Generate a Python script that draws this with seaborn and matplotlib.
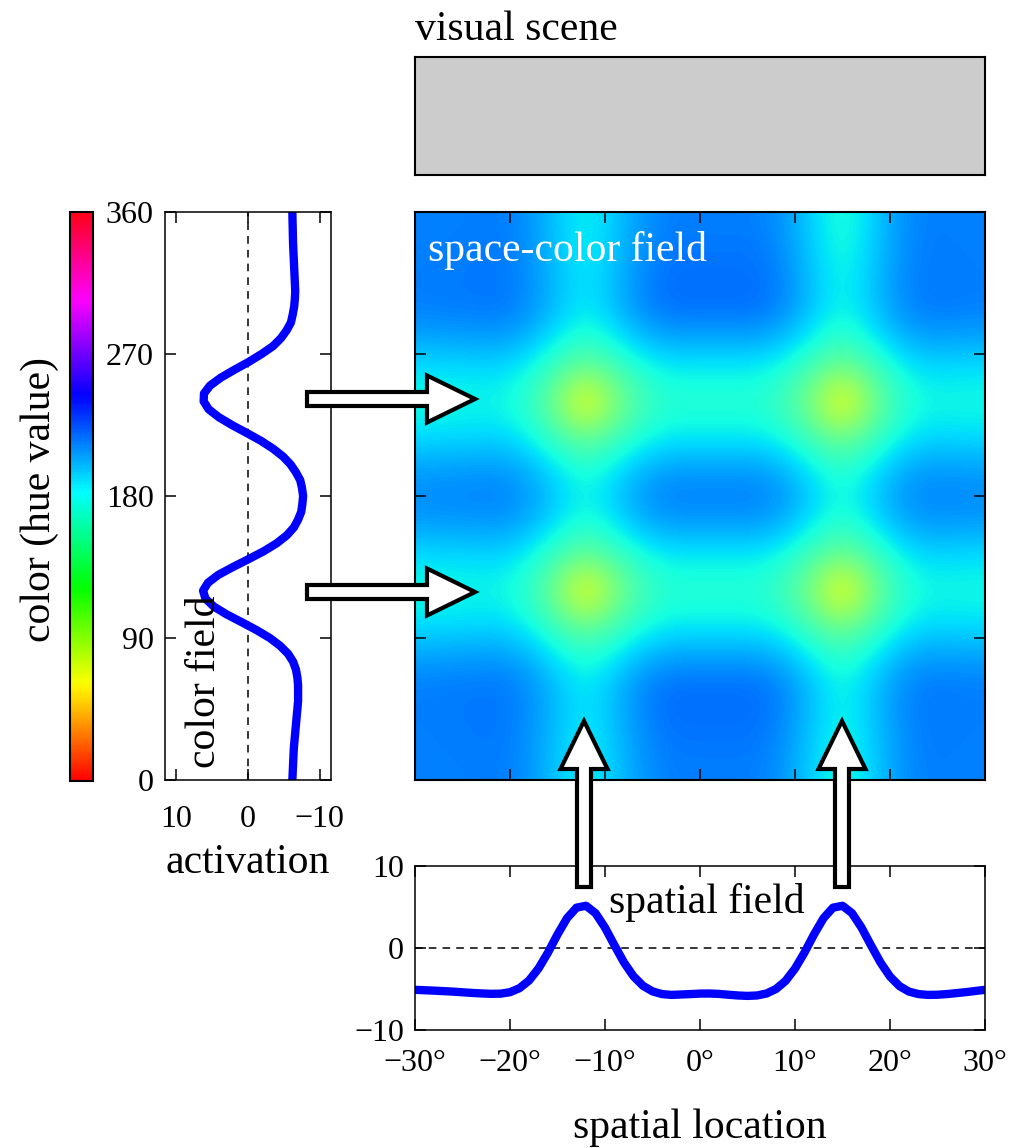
import numpy as np
import pandas as pd
import matplotlib
matplotlib.use("Agg")
import matplotlib.pyplot as plt
import seaborn as sns
from matplotlib.patches import FancyArrow
from matplotlib.cm import ScalarMappable
from matplotlib.colors import Normalize

# ---------------- data ----------------
hue_deg = list(range(0, 361, 5))
color_activation = [
    -6.20, -6.25, -6.30, -6.35, -6.40, -6.50, -6.60, -6.70, -6.80, -6.90,
    -7.00, -7.00, -7.00, -6.90, -6.70, -6.30, -5.60, -4.50, -3.05, -1.20,
    0.87, 3.00, 4.80, 5.95, 6.28, 5.60, 4.15, 2.10, -0.08, -2.20,
    -4.00, -5.40, -6.40, -7.00, -7.44, -7.60, -7.70, -7.55, -7.30, -6.70,
    -5.95, -4.90, -3.50, -1.80, 0.20, 2.25, 4.10, 5.50, 6.20, 6.15,
    5.30, 3.80, 1.90, -0.10, -1.90, -3.50, -4.60, -5.40, -6.00, -6.25,
    -6.45, -6.55, -6.60, -6.55, -6.50, -6.45, -6.40, -6.35, -6.30, -6.27,
    -6.25, -6.22, -6.20]

spatial_deg = list(range(-30, 31))
spatial_activation = [
    -5.10, -5.15, -5.20, -5.26, -5.32, -5.40, -5.48, -5.54, -5.59, -5.57,
    -5.39, -4.90, -3.97, -2.50, -0.55, 1.65, 3.63, 4.92, 5.15, 4.25,
    2.49, 0.32, -1.77, -3.45, -4.61, -5.29, -5.62, -5.72, -5.67, -5.62,
    -5.56, -5.55, -5.60, -5.70, -5.79, -5.84, -5.79, -5.55, -5.00, -4.02,
    -2.51, -0.55, 1.65, 3.63, 4.92, 5.15, 4.25, 2.49, 0.32, -1.77,
    -3.48, -4.65, -5.32, -5.62, -5.72, -5.70, -5.62, -5.50, -5.38, -5.24,
    -5.10]

# space-color field, rows from hue 0 (bottom) to 360 (top), columns -30..30 deg
field_x = list(range(-30, 31, 3))
field_hue = list(range(0, 361, 20))
field_activation = [
    [-4.9, -4.95, -5.0, -5.05, -4.58, -3.52, -2.7, -3.5, -4.54, -5.0, -5.0, -5.0, -5.0, -4.46, -3.24, -2.3, -3.26, -4.5, -5.0, -4.95, -4.9],
    [-4.95, -5.0, -5.05, -5.1, -4.63, -3.57, -2.75, -3.57, -4.63, -5.1, -5.1, -5.1, -5.1, -4.56, -3.35, -2.4, -3.35, -4.56, -5.05, -5.0, -4.95],
    [-5.0, -5.05, -5.1, -5.15, -4.7, -3.69, -2.9, -3.74, -4.82, -5.3, -5.3, -5.3, -5.3, -4.76, -3.55, -2.6, -3.49, -4.64, -5.1, -5.05, -5.0],
    [-5.0, -5.05, -5.1, -5.15, -4.7, -3.69, -2.9, -3.74, -4.82, -5.3, -5.3, -5.3, -5.3, -4.76, -3.55, -2.6, -3.49, -4.64, -5.1, -5.05, -5.0],
    [-4.2, -4.25, -4.3, -4.35, -3.88, -2.82, -2.0, -2.77, -3.76, -4.2, -4.2, -4.2, -4.2, -3.72, -2.64, -1.8, -2.69, -3.84, -4.3, -4.25, -4.2],
    [-3.0, -3.05, -3.1, -3.15, -2.55, -1.2, -0.2, -1.1, -2.2, -2.7, -2.7, -2.7, -2.7, -2.2, -1.0, 0.0, -1.1, -2.5, -3.1, -3.05, -3.0],
    [-2.5, -2.5, -2.55, -2.6, -1.8, 0.05, 2.9, 0.2, -1.4, -2.1, -2.1, -2.1, -2.1, -1.4, 0.25, 3.0, 0.1, -1.8, -2.55, -2.5, -2.5],
    [-3.0, -3.05, -3.1, -3.15, -2.55, -1.2, -0.2, -1.1, -2.2, -2.7, -2.7, -2.7, -2.7, -2.2, -1.0, 0.0, -1.1, -2.5, -3.1, -3.05, -3.0],
    [-4.2, -4.25, -4.3, -4.35, -3.88, -2.82, -2.0, -2.77, -3.76, -4.2, -4.2, -4.2, -4.2, -3.72, -2.64, -1.8, -2.69, -3.84, -4.3, -4.25, -4.2],
    [-4.8, -4.85, -4.9, -4.95, -4.5, -3.49, -2.7, -3.5, -4.54, -5.0, -5.0, -5.0, -5.0, -4.5, -3.38, -2.5, -3.36, -4.46, -4.9, -4.85, -4.8],
    [-4.2, -4.25, -4.3, -4.35, -3.88, -2.82, -2.0, -2.77, -3.76, -4.2, -4.2, -4.2, -4.2, -3.72, -2.64, -1.8, -2.69, -3.84, -4.3, -4.25, -4.2],
    [-3.0, -3.05, -3.1, -3.15, -2.55, -1.2, -0.2, -1.1, -2.2, -2.7, -2.7, -2.7, -2.7, -2.2, -1.0, 0.0, -1.1, -2.5, -3.1, -3.05, -3.0],
    [-2.5, -2.5, -2.55, -2.6, -1.8, 0.05, 2.9, 0.2, -1.4, -2.1, -2.1, -2.1, -2.1, -1.4, 0.25, 3.0, 0.1, -1.8, -2.55, -2.5, -2.5],
    [-3.0, -3.05, -3.1, -3.15, -2.55, -1.2, -0.2, -1.1, -2.2, -2.7, -2.7, -2.7, -2.7, -2.2, -1.0, 0.0, -1.1, -2.5, -3.1, -3.05, -3.0],
    [-4.2, -4.25, -4.3, -4.35, -3.88, -2.82, -2.0, -2.77, -3.76, -4.2, -4.2, -4.2, -4.2, -3.72, -2.64, -1.8, -2.69, -3.84, -4.3, -4.25, -4.2],
    [-5.0, -5.05, -5.1, -5.15, -4.7, -3.69, -2.9, -3.74, -4.82, -5.3, -5.3, -5.3, -5.3, -4.76, -3.55, -2.6, -3.49, -4.64, -5.1, -5.05, -5.0],
    [-5.0, -5.05, -5.1, -5.15, -4.7, -3.69, -2.9, -3.74, -4.82, -5.3, -5.3, -5.3, -5.3, -4.76, -3.55, -2.6, -3.49, -4.64, -5.1, -5.05, -5.0],
    [-4.95, -5.0, -5.05, -5.1, -4.63, -3.57, -2.75, -3.57, -4.63, -5.1, -5.1, -5.1, -5.1, -4.56, -3.35, -2.3, -3.35, -4.56, -5.05, -5.0, -4.95],
    [-4.9, -4.95, -5.0, -5.05, -4.58, -3.52, -2.7, -3.5, -4.54, -5.0, -5.0, -5.0, -5.0, -4.46, -3.24, -2.2, -3.26, -4.5, -5.0, -4.95, -4.9],
]

spatial_ticks = [-30, -20, -10, 0, 10, 20, 30]
spatial_ticklabels = ["−30°", "−20°", "−10°", "0°", "10°", "20°", "30°"]
hue_ticks = [0, 90, 180, 270, 360]
hue_ticklabels = ["0", "90", "180", "270", "360"]
activation_ticks = [10, 0, -10]
activation_ticklabels = ["10", "0", "−10"]
spatial_yticks = [-10, 0, 10]
spatial_yticklabels = ["−10", "0", "10"]

# ---------------- style ----------------
sns.set_theme(style="ticks", rc={"text.color": "black", "xtick.color": "black",
                                 "ytick.color": "black", "axes.labelcolor": "black",
                                 "axes.edgecolor": "black"})
plt.rcParams["font.family"] = ["Liberation Serif", "DejaVu Serif"]
plt.rcParams["axes.linewidth"] = 1.1

W, H = 1031, 1148
fig = plt.figure(figsize=(W / 100, H / 100), dpi=100)

def px_axes(x0, y0, x1, y1, **kw):
    return fig.add_axes([x0 / W, 1 - y1 / H, (x1 - x0) / W, (y1 - y0) / H], **kw)

TICK = dict(direction="in", length=8, width=1.1, color="black", labelcolor="black", labelsize=23)
LBL = 30
BLUE = "#0000ff"

# visual scene
ax_scene = px_axes(415, 57, 985, 175)
ax_scene.set_facecolor("#cccccc")
ax_scene.set_xticks([])
ax_scene.set_yticks([])
for s in ax_scene.spines.values():
    s.set_linewidth(1.5)

# space-color field
ax_f = px_axes(415, 212, 985, 780)
ax_f.imshow(np.array(field_activation), origin="lower", aspect="auto", cmap="jet",
            vmin=-10, vmax=10, interpolation="bicubic", interpolation_stage="data",
            extent=[field_x[0] - 1.5, field_x[-1] + 1.5, field_hue[0] - 10, field_hue[-1] + 10])
ax_f.set_xlim(-30, 30)
ax_f.set_ylim(0, 360)
ax_f.set_xticks(spatial_ticks)
ax_f.set_yticks(hue_ticks)
ax_f.tick_params(**TICK, top=True, right=True, labelbottom=False, labelleft=False)
for s in ax_f.spines.values():
    s.set_linewidth(1.5)

# color bar
cax = px_axes(70, 212, 93, 781)
cb = fig.colorbar(ScalarMappable(norm=Normalize(0, 360), cmap="hsv"), cax=cax, ticks=hue_ticks)
cb.outline.set_linewidth(1.5)
cax.tick_params(direction="in", length=7, width=1.1, color="black",
                right=True, left=False, labelright=False, labelleft=False)

# color field
ax_c = px_axes(165, 212, 331, 780)
df_c = pd.DataFrame({"hue": hue_deg, "act": color_activation})
ax_c.axvline(0, color="black", lw=1.1, ls=(0, (5, 4)))
sns.lineplot(data=df_c, x="act", y="hue", ax=ax_c, color=BLUE, lw=6,
             estimator=None, sort=False, orient="y")
ax_c.set_xlim(11.6, -11.6)
ax_c.set_ylim(0, 360)
ax_c.set_xticks(activation_ticks)
ax_c.set_xticklabels(activation_ticklabels)
ax_c.set_yticks(hue_ticks)
ax_c.set_yticklabels(hue_ticklabels)
ax_c.tick_params(**TICK, top=True, right=True)
ax_c.tick_params(axis="x", pad=18)
ax_c.tick_params(axis="y", pad=8)
ax_c.set_xlabel("")
ax_c.set_ylabel("")

# spatial field
ax_s = px_axes(415, 866, 985, 1030)
df_s = pd.DataFrame({"x": spatial_deg, "act": spatial_activation})
ax_s.axhline(0, color="black", lw=1.1, ls=(0, (5, 4)))
sns.lineplot(data=df_s, x="x", y="act", ax=ax_s, color=BLUE, lw=6, estimator=None)
ax_s.set_xlim(-30, 30)
ax_s.set_ylim(-10, 10)
ax_s.set_xticks(spatial_ticks)
ax_s.set_xticklabels(spatial_ticklabels)
ax_s.set_yticks(spatial_yticks)
ax_s.set_yticklabels(spatial_yticklabels)
ax_s.tick_params(**TICK, top=True, right=True)
ax_s.tick_params(axis="x", pad=14)
ax_s.tick_params(axis="y", pad=8)
ax_s.set_xlabel("")
ax_s.set_ylabel("")

# overlay for arrows and free text (pixel coordinates)
ov = fig.add_axes([0, 0, 1, 1])
ov.set_xlim(0, W)
ov.set_ylim(H, 0)
ov.axis("off")
ov.set_zorder(10)
ov.patch.set_visible(False)

arrow_kw = dict(width=14, head_width=47, head_length=48, length_includes_head=True,
                fc="white", ec="black", lw=3.0, joinstyle="miter")
for (x, y, dx, dy) in [(307, 399, 168, 0), (307, 592, 168, 0),
                       (584, 887, 0, -166), (842, 887, 0, -166)]:
    ov.add_patch(FancyArrow(x, y, dx, dy, **arrow_kw))

ov.text(415, 40, "visual scene", fontsize=LBL, ha="left", va="baseline")
ov.text(428, 261, "space-color field", fontsize=LBL, ha="left", va="baseline", color="white")
ov.text(707, 913, "spatial field", fontsize=LBL, ha="center", va="baseline")
ov.text(700, 1138, "spatial location", fontsize=LBL, ha="center", va="baseline")
ov.text(248, 873, "activation", fontsize=LBL, ha="center", va="baseline")
ov.text(215, 768, "color field", fontsize=LBL, ha="left", va="baseline",
        rotation=90, rotation_mode="anchor")
ov.text(50, 500, "color (hue value)", fontsize=LBL, ha="center", va="baseline",
        rotation=90, rotation_mode="anchor")

fig.savefig("out.png", dpi=100)
